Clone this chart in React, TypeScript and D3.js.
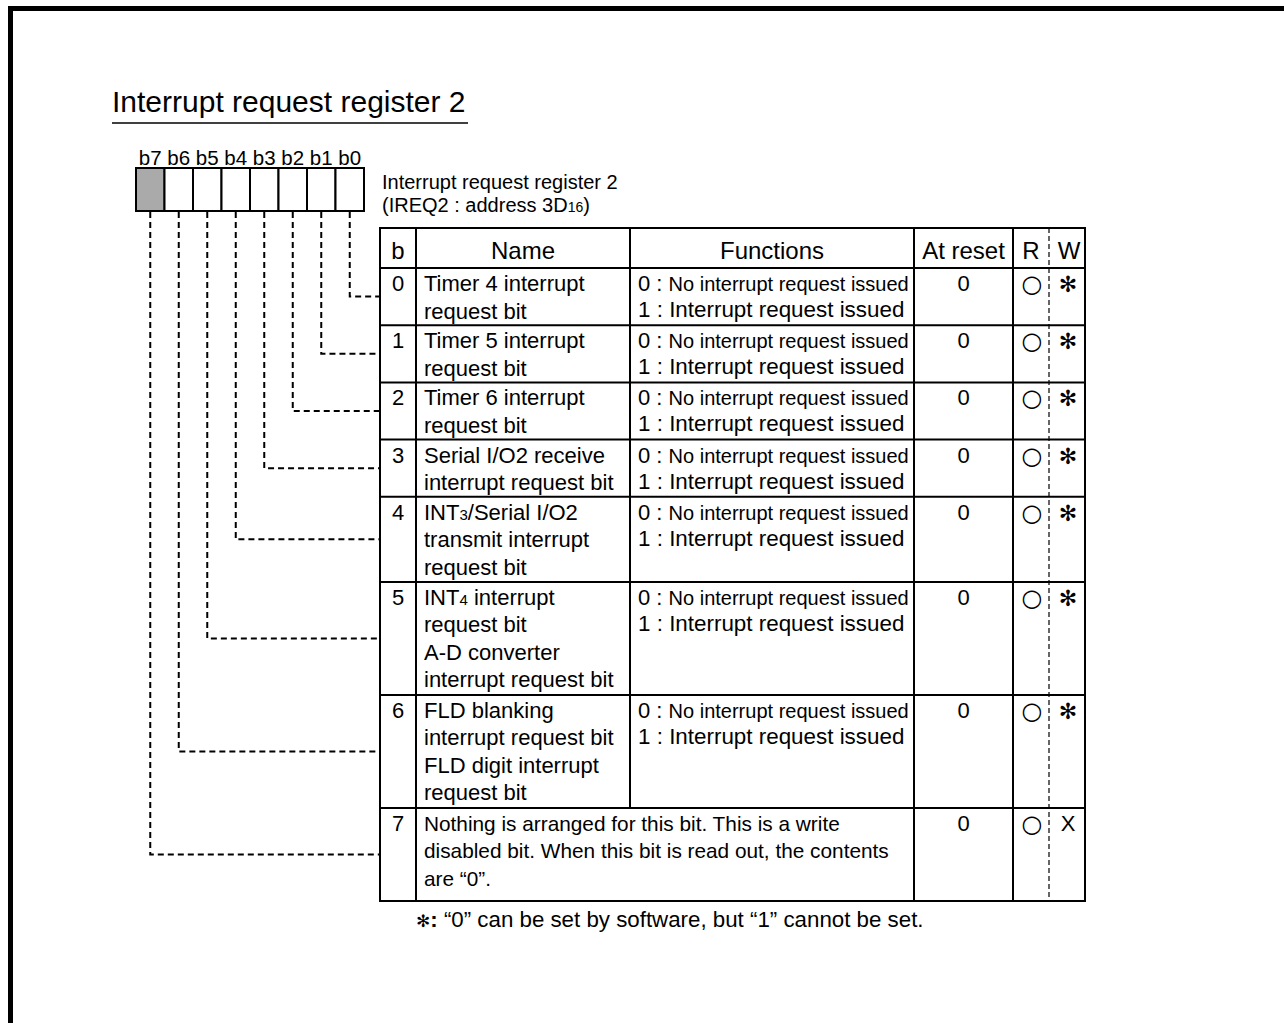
import React from "react";
import * as d3 from "d3";

// register bits, left to right as drawn
const bits = ["b7", "b6", "b5", "b4", "b3", "b2", "b1", "b0"];
const reservedBits = ["b7"];

const title = "Interrupt request register 2";
const subtitle = ["Interrupt request register 2", "(IREQ2 : address 3D{16})"];
const headers = ["b", "Name", "Functions", "At reset", "R", "W"];

const bitNumbers = ["0", "1", "2", "3", "4", "5", "6", "7"];
const names = [
  ["Timer 4 interrupt", "request bit"],
  ["Timer 5 interrupt", "request bit"],
  ["Timer 6 interrupt", "request bit"],
  ["Serial I/O2 receive", "interrupt request bit"],
  ["INT{3}/Serial I/O2", "transmit interrupt", "request bit"],
  ["INT{4} interrupt", "request bit", "A-D converter", "interrupt request bit"],
  ["FLD blanking", "interrupt request bit", "FLD digit interrupt", "request bit"],
  [
    "Nothing is arranged for this bit. This is a write",
    "disabled bit. When this bit is read out, the contents",
    "are \u201c0\u201d.",
  ],
];
const function0 = "No interrupt request issued";
const function1 = "Interrupt request issued";
const atReset = ["0", "0", "0", "0", "0", "0", "0", "0"];
const readMarks = ["○", "○", "○", "○", "○", "○", "○", "○"];
const writeMarks = ["✻", "✻", "✻", "✻", "✻", "✻", "✻", "X"];
const footnote = "\u201c0\u201d can be set by software, but \u201c1\u201d cannot be set.";

const W = 1284;
const H = 1023;
const font = "'Liberation Sans', Arial, sans-serif";

// table layout
const colEdges = [380, 416, 630, 914, 1013, 1049, 1085];
const tableTop = 228;
const headerBottom = 268;
const lineH = 27.9;

// rich text: "{16}" -> small figures on the baseline
function rich(s: string, small: number) {
  return s.split(/\{(\d+)\}/).map((p, i) =>
    i % 2 ? (
      <tspan key={i} fontSize={small}>
        {p}
      </tspan>
    ) : (
      <tspan key={i}>{p}</tspan>
    )
  );
}

export default function App() {
  const cellX = d3.scaleBand<string>().domain(bits).range([136, 364]);

  // row tops from the number of text lines in each row
  const heights = names.map((n, i) => n.length * lineH + 1.4 + (i === names.length - 1 ? 8 : 0));
  const tops = [headerBottom];
  heights.forEach((h) => tops.push(tops[tops.length - 1] + h));
  const tableBottom = tops[tops.length - 1];

  const colCenter = (i: number) => (colEdges[i] + colEdges[i + 1]) / 2;
  const bodySize = 22;

  return (
    <svg
      width={W}
      height={H}
      style={{ position: "absolute", left: 0, top: 0, background: "#fff" }}
      fontFamily={font}
    >
      {/* page frame */}
      <rect x={0} y={0} width={W} height={H} fill="#fff" />
      <line x1={8} x2={W} y1={8.5} y2={8.5} stroke="#000" strokeWidth={5} />
      <line x1={10.5} x2={10.5} y1={6} y2={H} stroke="#000" strokeWidth={5} />

      {/* title */}
      <text x={112} y={112} fontSize={30}>
        {title}
      </text>
      <line x1={112} x2={468} y1={123} y2={123} stroke="#000" strokeWidth={1.5} />

      {/* register cells */}
      {bits.map((b) => (
        <g key={b}>
          <text x={cellX(b)! + cellX.bandwidth() / 2} y={165} fontSize={20.5} textAnchor="middle">
            {b}
          </text>
          <rect
            x={cellX(b)}
            y={168}
            width={cellX.bandwidth()}
            height={43}
            fill={reservedBits.includes(b) ? "#aaaaaa" : "#fff"}
            stroke="#000"
            strokeWidth={2}
          />
        </g>
      ))}

      <text x={382} y={189} fontSize={20}>
        {subtitle[0]}
      </text>
      <text x={382} y={212} fontSize={20}>
        {rich(subtitle[1], 14)}
      </text>

      {/* leader lines from each cell to its row */}
      {bitNumbers.map((n, i) => {
        const cx = cellX("b" + n)! + cellX.bandwidth() / 2;
        const my = (tops[i] + tops[i + 1]) / 2;
        return (
          <path
            key={n}
            d={`M${cx},212 V${my} H${colEdges[0]}`}
            fill="none"
            stroke="#000"
            strokeWidth={2}
            strokeDasharray="6 4"
          />
        );
      })}

      {/* header */}
      {headers.map((h, i) => (
        <text
          key={h}
          x={i === 5 ? colCenter(i) + 2 : colCenter(i)}
          y={259}
          fontSize={24}
          textAnchor="middle"
        >
          {h}
        </text>
      ))}

      {/* rows */}
      {names.map((lines, i) => {
        const top = tops[i];
        const base = top + 23;
        const spanned = i === names.length - 1;
        const isX = writeMarks[i] === "X";
        return (
          <g key={i}>
            <text x={colCenter(0)} y={base} fontSize={bodySize} textAnchor="middle">
              {bitNumbers[i]}
            </text>
            {lines.map((l, j) => (
              <text
                key={j}
                x={colEdges[1] + 8}
                y={base + j * 27.5}
                fontSize={spanned ? 20.8 : bodySize}
              >
                {rich(l, 15)}
              </text>
            ))}
            {!spanned && (
              <>
                <text x={colEdges[2] + 8} y={base} fontSize={bodySize}>
                  0 : <tspan fontSize={20}>{function0}</tspan>
                </text>
                <text x={colEdges[2] + 8} y={base + 26} fontSize={22.4}>
                  1 : {function1}
                </text>
              </>
            )}
            <text x={colCenter(3)} y={base} fontSize={bodySize} textAnchor="middle">
              {atReset[i]}
            </text>
            <text
              x={colCenter(4) + 1}
              y={base + 1}
              fontSize={24}
              textAnchor="middle"
              fontFamily="'DejaVu Sans'"
            >
              {readMarks[i]}
            </text>
            <text
              x={colCenter(5) + 1}
              y={isX ? base : base + 1}
              fontSize={22}
              textAnchor="middle"
              fontFamily={isX ? font : "'DejaVu Sans'"}
              fontWeight={isX ? 300 : "bold"}
            >
              {writeMarks[i]}
            </text>
          </g>
        );
      })}

      {/* grid */}
      <rect
        x={colEdges[0]}
        y={tableTop}
        width={colEdges[6] - colEdges[0]}
        height={tableBottom - tableTop}
        fill="none"
        stroke="#000"
        strokeWidth={2}
      />
      {tops.slice(0, -1).map((y, i) => (
        <line key={i} x1={colEdges[0]} x2={colEdges[6]} y1={y} y2={y} stroke="#000" strokeWidth={2} />
      ))}
      {[1, 3, 4].map((c) => (
        <line key={c} x1={colEdges[c]} x2={colEdges[c]} y1={tableTop} y2={tableBottom} stroke="#000" strokeWidth={2} />
      ))}
      <line
        x1={colEdges[2]}
        x2={colEdges[2]}
        y1={tableTop}
        y2={tops[tops.length - 2]}
        stroke="#000"
        strokeWidth={2}
      />
      <line
        x1={colEdges[5]}
        x2={colEdges[5]}
        y1={tableTop}
        y2={tableBottom}
        stroke="#000"
        strokeWidth={1.2}
        strokeDasharray="5 3"
      />

      {/* footnote */}
      <text x={416} y={927} fontSize={22.3}>
        <tspan fontFamily="'DejaVu Sans'" fontWeight="bold" fontSize={17}>
          ✻
        </tspan>
        <tspan fontWeight="bold">:</tspan> {footnote}
      </text>
    </svg>
  );
}
